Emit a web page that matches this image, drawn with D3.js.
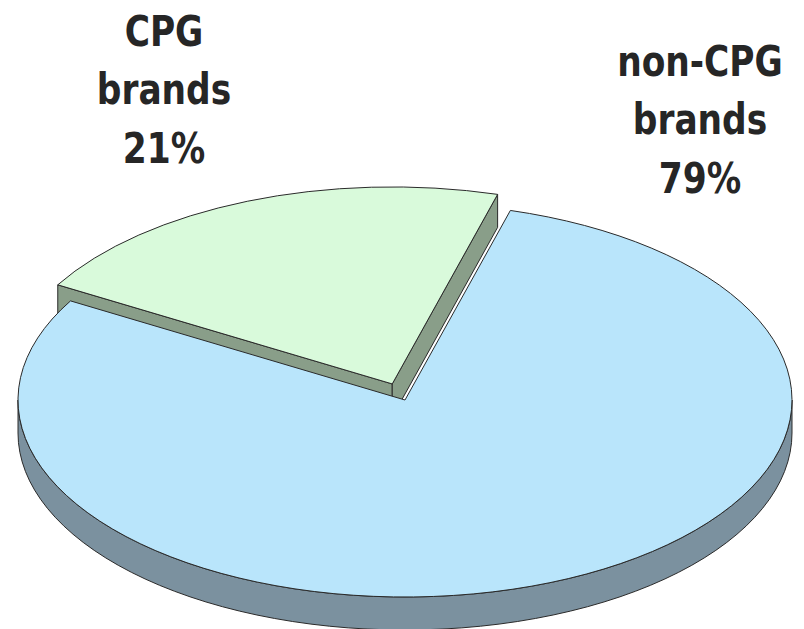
<!DOCTYPE html>
<html>
<head>
<meta charset="utf-8">
<script src="https://cdn.jsdelivr.net/npm/d3@7"></script>
<style>
  html, body { margin: 0; padding: 0; background: #fff; }
  svg { display: block; }
</style>
</head>
<body>
<svg id="chart"></svg>
<script>
const width = 804;
const height = 629;

// data
const categories = ["non-CPG brands", "CPG brands"];
const values = [79, 21];
const exploded = [0, 0.088];

const topColors = ["#b9e5fb", "#d9fadb"];
const sideColors = ["#7b919f", "#899e89"];

// where Excel put the labels (line centre / first baseline)
const labelPos = [[700, 76], [164, 46]];

const cx = 405, cy = 400, rx = 387, ry = 197, depth = 33;
const deg = Math.PI / 180;
const start = 15.8 * deg;

const svg = d3.select("#chart")
  .attr("width", width)
  .attr("height", height)
  .attr("viewBox", [0, 0, width, height]);

const pie = d3.pie().sort(null).startAngle(start).endAngle(start + 2 * Math.PI);
const arcs = pie(values).map((d, i) => Object.assign(d, {
  name: categories[i],
  explode: exploded[i],
  mid: (d.startAngle + d.endAngle) / 2
}));

// unit circle -> screen, angle clockwise from the back
const x = d3.scaleLinear().domain([-1, 1]).range([cx - rx, cx + rx]);
const y = d3.scaleLinear().domain([-1, 1]).range([cy + ry, cy - ry]);

function pt(d, a, r, z) {
  const ox = d.explode * Math.sin(d.mid), oy = d.explode * Math.cos(d.mid);
  return [x(ox + r * Math.sin(a)), y(oy + r * Math.cos(a)) + z];
}

function topPath(d) {
  const c = pt(d, 0, 0, 0), p0 = pt(d, d.startAngle, 1, 0), p1 = pt(d, d.endAngle, 1, 0);
  const large = d.endAngle - d.startAngle > Math.PI ? 1 : 0;
  return `M${c}L${p0}A${rx},${ry} 0 ${large} 1 ${p1}Z`;
}

function wallPath(d, a0, a1) {
  const t0 = pt(d, a0, 1, 0), t1 = pt(d, a1, 1, 0);
  const b0 = pt(d, a0, 1, depth), b1 = pt(d, a1, 1, depth);
  const large = a1 - a0 > Math.PI ? 1 : 0;
  return `M${t0}A${rx},${ry} 0 ${large} 1 ${t1}L${b1}A${rx},${ry} 0 ${large} 0 ${b0}Z`;
}

function cutPath(d, a) {
  return "M" + [pt(d, 0, 0, 0), pt(d, a, 1, 0), pt(d, a, 1, depth), pt(d, 0, 0, depth)].join("L") + "Z";
}

// front of the pie is a = PI; the outer wall shows from PI/2 to 3PI/2
function frontRange(d) {
  const lo = Math.max(d.startAngle, Math.PI / 2);
  const hi = Math.min(d.endAngle, 3 * Math.PI / 2);
  return hi > lo ? [lo, hi] : null;
}

const g = svg.append("g")
  .attr("stroke", "#2a2a2a")
  .attr("stroke-width", 1)
  .attr("stroke-linejoin", "round");

// back slice first (CPG), then the big one
const order = [1, 0];
order.forEach(i => {
  const d = arcs[i];
  const s = g.append("g");
  if (d.explode > 0) {
    // both radial faces are seen on the exploded slice
    s.append("path").attr("d", cutPath(d, d.startAngle)).attr("fill", sideColors[i]);
    s.append("path").attr("d", cutPath(d, d.endAngle)).attr("fill", sideColors[i]);
  }
  const fr = frontRange(d);
  if (fr) s.append("path").attr("d", wallPath(d, fr[0], fr[1])).attr("fill", sideColors[i]);
  s.append("path").attr("d", topPath(d)).attr("fill", topColors[i]);
});

// labels
const pct = d3.format(".0%");
const total = d3.sum(values);
const lineGap = 58.5;

arcs.forEach((d, i) => {
  const sp = d.name.indexOf(" ");
  const lines = [d.name.slice(0, sp), d.name.slice(sp + 1), pct(d.value / total)];
  const t = svg.append("g")
    .attr("transform", `translate(${labelPos[i][0]},${labelPos[i][1]}) scale(0.82,1)`)
    .append("text")
    .attr("text-anchor", "middle")
    .attr("font-family", "'DejaVu Sans', sans-serif")
    .attr("font-weight", "bold")
    .attr("font-size", 42)
    .attr("fill", "#262626");
  lines.forEach((l, k) => {
    t.append("tspan").attr("x", 0).attr("y", k * lineGap).text(l);
  });
});
</script>
</body>
</html>
